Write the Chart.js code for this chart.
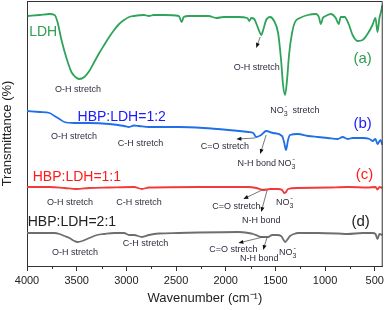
<!DOCTYPE html>
<html>
<head>
<meta charset="UTF-8">
<title>FTIR spectra</title>
<script src="https://cdn.jsdelivr.net/npm/chart.js"></script>
<style>
  html, body { margin: 0; padding: 0; background: #fff; }
  #wrap { width: 387px; height: 310px; position: relative; }
</style>
</head>
<body>
<div id="wrap"><canvas id="ftir"></canvas></div>
<script>
// wavenumber (cm-1) and transmittance (arbitrary offset units) per spectrum
const ldhWave = [3993,3873,3773,3723,3693,3653,3603,3553,3513,3473,3423,3373,3323,3273,3223,3173,3123,3073,3023,2973,2923,2823,2773,2723,2623,2473,2443,2423,2373,2173,2093,2023,1873,1783,1763,1743,1713,1683,1663,1643,1623,1593,1553,1513,1473,1443,1423,1403,1383,1363,1333,1303,1253,1173,1093,1063,1043,1023,993,943,893,863,843,803,763,723,673,623,573,523,493,473,453,433,423];
const ldhT    = [250,251,252,251,244,226,208,194,189,187,189,195,204,213,221,229,236,242,246,249,250,251,250,251,251,250,244,249,250,250,248,249,249,248,245,248,247,240,235,231,236,246,249,245,233,206,181,171,186,211,233,244,248,251,252,249,242,248,250,252,248,242,249,249,242,231,225,226,232,241,248,234,248,256,261];

const hbp12Wave = [4000,3873,3773,3723,3673,3623,3523,3373,3173,3023,2973,2923,2873,2773,2473,2223,1973,1773,1723,1693,1643,1593,1523,1433,1413,1393,1373,1353,1273,1173,1073,973,873,823,773,723,623,553,523,493,473,443,423];
const hbp12T    = [155,154,153,150,147,144,143,143,142,140,139,140.5,140,139,139,138,136,134,133,129,131,135,133,130,124,116,126,131,132,130,129,128,127,129,127,128,128,127,125,127,122,126,121];

const hbp11Wave = [4000,3773,3623,3503,3373,3173,2923,2843,2773,2273,1773,1693,1623,1553,1473,1433,1413,1393,1373,1273,973,773,573,493,473,453,423];
const hbp11T    = [79,79,78,77,78,78.5,79,77,78.5,79,79,78,76,77,77,76,73,74,77,78,78.5,79,78.5,79,76.5,79,78];

const hbp21Wave = [4000,3723,3673,3623,3573,3523,3493,3443,3373,3293,3223,3123,3023,2973,2923,2843,2773,2673,2473,2273,1873,1773,1723,1673,1643,1573,1533,1483,1443,1423,1403,1383,1353,1313,1273,1073,873,773,623,523,493,473,453,423];
const hbp21T    = [33,33,32,30,28,25,24,25,28,31,32,33,33,31,31,29,31,32.5,33,33.5,34,33,32,30,29,29,31,31,30,27,24,26,30,32,33,33,32.5,32,33,33,32,27,32,31];

const seriesNames = ['LDH', 'HBP:LDH=1:2', 'HBP:LDH=1:1', 'HBP:LDH=2:1'];
const majorTicks = [4000,3500,3000,2500,2000,1500,1000,500];
const minorTicks = [3750,3250,2750,2250,1750,1250,750];

function pts(w, t) { return w.map((x, i) => ({ x: x, y: t[i] })); }

const FONT = 'Liberation Sans, Arial, sans-serif';
const NOTE = '#2e2e3e';

// text notes: [text, wavenumber, level, size, colour, align]
const notes = [
  ['LDH', 3837, 234, 14, '#2e9e52', 'center'],
  ['O-H stretch', 3487, 176, 9, NOTE, 'center'],
  ['O-H stretch', 1688, 198, 9, NOTE, 'center'],
  ['(a)', 623, 207, 15, '#2e9e52', 'center'],
  ['HBP:LDH=1:2', 3047, 149, 14, '#1a1aff', 'center'],
  ['O-H stretch', 3528, 129, 9, NOTE, 'center'],
  ['C-H stretch', 2858, 122, 9, NOTE, 'center'],
  ['(b)', 623, 142, 15, '#1a1aff', 'center'],
  ['C=O stretch', 2008, 119, 9, NOTE, 'center'],
  ['N-H bond', 1688, 102, 9, NOTE, 'center'],
  ['(c)', 603, 91, 15, '#ff1a1a', 'center'],
  ['HBP:LDH=1:1', 3498, 89, 14, '#ff1a1a', 'center'],
  ['O-H stretch', 3568, 63, 9, NOTE, 'center'],
  ['C-H stretch', 2873, 63, 9, NOTE, 'center'],
  ['C=O stretch', 1893, 59, 9, NOTE, 'center'],
  ['N-H bond', 1643, 45, 9, NOTE, 'center'],
  ['(d)', 643, 44, 15, '#222', 'center'],
  ['HBP:LDH=2:1', 3548, 44, 14, '#222', 'center'],
  ['O-H stretch', 3518, 13, 9, NOTE, 'center'],
  ['C-H stretch', 2808, 22, 9, NOTE, 'center'],
  ['C=O stretch', 1923, 16, 9, NOTE, 'center'],
  ['N-H bond', 1663, 7, 9, NOTE, 'center']
];
// nitrate labels: [wavenumber, level, with " stretch"]
const nitrate = [[1553, 155, true], [1473, 102, false], [1493, 63, false], [1463, 13, false]];
// arrows: [fromW, fromT, toW, toT]
const arrows = [
  [1653, 229, 1693, 218],
  [1703, 128, 1893, 127],
  [1593, 131, 1653, 112],
  [1613, 77, 1823, 67],
  [1583, 76, 1643, 54],
  [1623, 29, 1873, 23],
  [1583, 29, 1623, 16]
];

const decor = {
  id: 'decor',
  afterDraw(chart) {
    const ctx = chart.ctx;
    const xs = chart.scales.x, ys = chart.scales.y;
    const a = chart.chartArea;
    ctx.save();
    // frame top/right
    ctx.strokeStyle = '#333';
    ctx.lineWidth = 1;
    ctx.beginPath();
    ctx.moveTo(a.left, a.top + 0.5);
    ctx.lineTo(a.right - 0.5, a.top + 0.5);
    ctx.lineTo(a.right - 0.5, a.bottom);
    ctx.stroke();
    // minor ticks
    ctx.beginPath();
    minorTicks.forEach(v => {
      const px = Math.round(xs.getPixelForValue(v)) + 0.5;
      ctx.moveTo(px, a.bottom);
      ctx.lineTo(px, a.bottom + 3);
    });
    ctx.stroke();

    // text notes
    ctx.textBaseline = 'middle';
    notes.forEach(n => {
      ctx.font = n[3] + 'px ' + FONT;
      ctx.fillStyle = n[4];
      ctx.textAlign = n[5];
      ctx.fillText(n[0], xs.getPixelForValue(n[1]), ys.getPixelForValue(n[2]));
    });
    // NO3- labels
    ctx.textAlign = 'left';
    ctx.fillStyle = NOTE;
    nitrate.forEach(n => {
      let x = xs.getPixelForValue(n[0]);
      const y = ys.getPixelForValue(n[1]);
      ctx.font = '9px ' + FONT;
      ctx.fillText('NO', x, y);
      x += ctx.measureText('NO').width;
      ctx.font = '7px ' + FONT;
      ctx.fillText('3', x, y + 3);
      ctx.fillText('-', x + 1, y - 5);
      x += ctx.measureText('3').width;
      if (n[2]) {
        ctx.font = '9px ' + FONT;
        ctx.fillText('  stretch', x, y);
      }
    });
    // arrows
    arrows.forEach(r => {
      const x1 = xs.getPixelForValue(r[0]), y1 = ys.getPixelForValue(r[1]);
      const x2 = xs.getPixelForValue(r[2]), y2 = ys.getPixelForValue(r[3]);
      const ang = Math.atan2(y2 - y1, x2 - x1);
      ctx.strokeStyle = '#555';
      ctx.lineWidth = 0.8;
      ctx.beginPath();
      ctx.moveTo(x1, y1);
      ctx.lineTo(x2 - 3 * Math.cos(ang), y2 - 3 * Math.sin(ang));
      ctx.stroke();
      ctx.fillStyle = '#111';
      ctx.beginPath();
      ctx.moveTo(x2, y2);
      ctx.lineTo(x2 - 5 * Math.cos(ang) + 2 * Math.sin(ang), y2 - 5 * Math.sin(ang) - 2 * Math.cos(ang));
      ctx.lineTo(x2 - 5 * Math.cos(ang) - 2 * Math.sin(ang), y2 - 5 * Math.sin(ang) + 2 * Math.cos(ang));
      ctx.closePath();
      ctx.fill();
    });
    ctx.restore();
  }
};

const lineStyle = (color) => ({
  borderColor: color,
  borderWidth: 1.8,
  pointRadius: 0,
  fill: false,
  cubicInterpolationMode: 'monotone'
});

new Chart(document.getElementById('ftir'), {
  type: 'line',
  data: {
    datasets: [
      Object.assign({ label: seriesNames[0], data: pts(ldhWave, ldhT) }, lineStyle('#2ea35a')),
      Object.assign({ label: seriesNames[1], data: pts(hbp12Wave, hbp12T) }, lineStyle('#1f6fe8')),
      Object.assign({ label: seriesNames[2], data: pts(hbp11Wave, hbp11T) }, lineStyle('#f23a3a')),
      Object.assign({ label: seriesNames[3], data: pts(hbp21Wave, hbp21T) }, lineStyle('#6e6e6e'))
    ]
  },
  options: {
    responsive: true,
    maintainAspectRatio: false,
    animation: false,
    layout: { padding: { top: 1, right: 2, left: 0, bottom: 0 } },
    plugins: { legend: { display: false }, tooltip: { enabled: false } },
    scales: {
      x: {
        type: 'linear',
        reverse: true,
        min: 420,
        max: 4000,
        afterBuildTicks: s => { s.ticks = majorTicks.map(v => ({ value: v })); },
        afterFit: s => { s.height = 44; },
        ticks: {
          font: { size: 11, family: FONT }, color: '#222', padding: 3, maxRotation: 0,
          callback: v => String(v)
        },
        grid: { display: true, drawOnChartArea: false, drawTicks: true, tickLength: 5, color: '#333' },
        border: { display: true, color: '#333', width: 1 },
        title: {
          display: true,
          text: 'Wavenumber (cm\u207B\u00B9)',
          font: { size: 13, family: FONT },
          color: '#222',
          padding: { top: 0, bottom: 4 }
        }
      },
      y: {
        min: 0,
        max: 265,
        afterFit: s => { s.width = 27; },
        ticks: { display: false },
        grid: { display: false },
        border: { display: true, color: '#333', width: 1 },
        title: {
          display: true,
          text: 'Transmittance (%)',
          font: { size: 13, family: FONT },
          color: '#222',
          padding: { top: 0, bottom: 0 }
        }
      }
    }
  },
  plugins: [decor]
});
</script>
</body>
</html>
